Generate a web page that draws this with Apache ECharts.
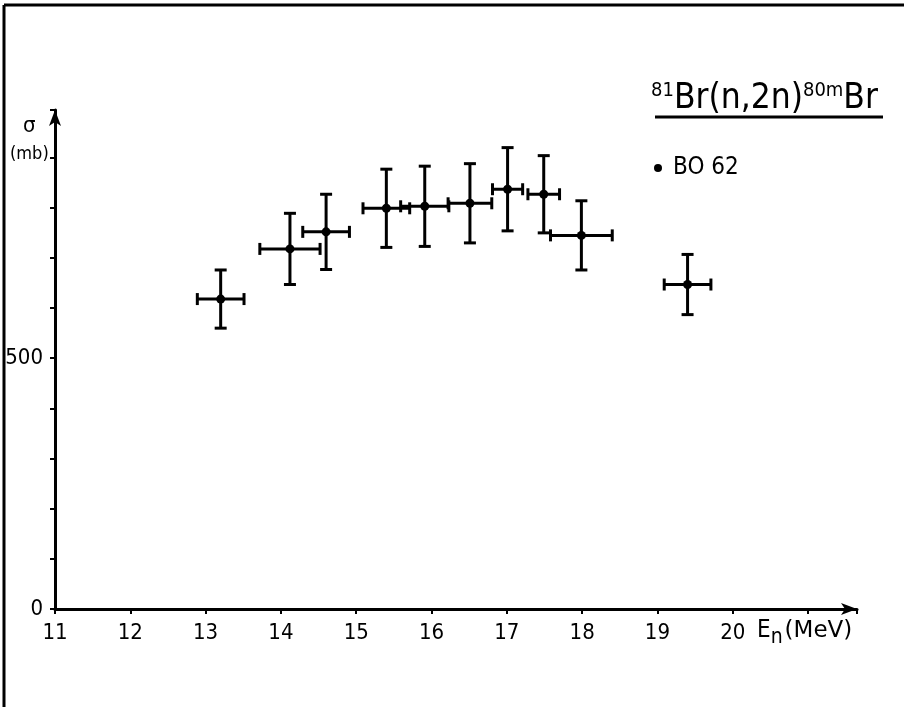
<!DOCTYPE html>
<html>
<head>
<meta charset="utf-8">
<script src="https://cdn.jsdelivr.net/npm/echarts@6/dist/echarts.min.js"></script>
<style>html,body{margin:0;padding:0;background:#fff;}#c{width:904px;height:707px;}</style>
</head>
<body>
<div id="c"></div>
<script>
// Data
const energies   = [13.2, 14.12, 14.6, 15.4, 15.91, 16.51, 17.01, 17.49, 17.99, 19.4];
const energyErr  = [0.31, 0.40, 0.31, 0.31, 0.32, 0.29, 0.20, 0.21, 0.41, 0.31];
const sigma      = [618, 718, 752, 799, 803, 809, 837, 827, 745, 647];
const sigmaErr   = [58, 71, 75, 78, 80, 79, 83, 77, 69, 60];
const xTickLabels = ['11','12','13','14','15','16','17','18','19','20'];
const yTickLabels = ['0','500'];
const seriesName = 'BO 62';

const COND = '"DejaVu Sans Condensed", "DejaVu Sans", sans-serif';
const WIDE = '"DejaVu Sans", sans-serif';
const chart = echarts.init(document.getElementById('c'), null, {renderer: 'canvas'});

const errData = energies.map((e, i) => [e, sigma[i], energyErr[i], sigmaErr[i]]);
const ptData = energies.map((e, i) => [e, sigma[i]]);

function renderErr(params, api) {
  const x = api.value(0), y = api.value(1), ex = api.value(2), ey = api.value(3);
  const l = api.coord([x - ex, y]), r = api.coord([x + ex, y]);
  const t = api.coord([x, y + ey]), b = api.coord([x, y - ey]);
  const st = {stroke: '#000', lineWidth: 3};
  const cap = 6, vcap = 6;
  return {
    type: 'group',
    children: [
      {type: 'line', shape: {x1: l[0], y1: l[1], x2: r[0], y2: r[1]}, style: st},
      {type: 'line', shape: {x1: t[0], y1: t[1], x2: b[0], y2: b[1]}, style: st},
      {type: 'line', shape: {x1: l[0], y1: l[1] - vcap, x2: l[0], y2: l[1] + vcap}, style: st},
      {type: 'line', shape: {x1: r[0], y1: r[1] - vcap, x2: r[0], y2: r[1] + vcap}, style: st},
      {type: 'line', shape: {x1: t[0] - cap, y1: t[1], x2: t[0] + cap, y2: t[1]}, style: st},
      {type: 'line', shape: {x1: b[0] - cap, y1: b[1], x2: b[0] + cap, y2: b[1]}, style: st}
    ]
  };
}

const option = {
  backgroundColor: '#fff',
  animation: false,
  grid: {left: 55, top: 110, width: 802, height: 499, containLabel: false},
  xAxis: {
    type: 'value', min: 11, max: 21.65, interval: 1,
    axisLine: {show: true, onZero: false, lineStyle: {color: '#000', width: 3}, symbol: ['none', 'arrow'], symbolSize: [9, 16]},
    axisTick: {show: true, length: 5, lineStyle: {color: '#000', width: 2}},
    splitLine: {show: false},
    axisLabel: {
      color: '#000', fontSize: 22, fontFamily: COND, margin: 13,
      formatter: v => { const i = Math.round(v) - 11; return (Math.abs(v - Math.round(v)) < 1e-6 && i >= 0 && i < xTickLabels.length) ? xTickLabels[i] : ''; }
    }
  },
  yAxis: {
    type: 'value', min: 0, max: 995, interval: 100,
    axisLine: {show: true, onZero: false, lineStyle: {color: '#000', width: 3}, symbol: ['none', 'arrow'], symbolSize: [9, 16]},
    axisTick: {show: true, length: 5, lineStyle: {color: '#000', width: 2}},
    splitLine: {show: false},
    axisLabel: {
      color: '#000', fontSize: 22, fontFamily: COND, margin: 12,
      formatter: v => v === 0 ? yTickLabels[0] : (v === 500 ? yTickLabels[1] : '')
    }
  },
  legend: {
    show: true, left: 649, top: 151, icon: 'circle', itemWidth: 8, itemHeight: 8, itemGap: 4,
    textStyle: {color: '#000', fontSize: 24, fontFamily: COND, padding: [0, 0, 0, 6]},
    itemStyle: {color: '#000', opacity: 1},
    data: [seriesName]
  },
  series: [
    {type: 'custom', name: 'err', renderItem: renderErr, data: errData, z: 2, silent: true},
    {type: 'scatter', name: seriesName, data: ptData, symbol: 'circle', symbolSize: 9, itemStyle: {color: '#000', opacity: 1}, z: 3}
  ],
  graphic: [
    {type: 'line', shape: {x1: 4, y1: 5, x2: 904, y2: 5}, style: {stroke: '#000', lineWidth: 3}},
    {type: 'line', shape: {x1: 4, y1: 5, x2: 4, y2: 707}, style: {stroke: '#000', lineWidth: 3}},
    {type: 'text', left: 23, top: 115, style: {text: 'σ', fill: '#000', font: '22px ' + COND}},
    {type: 'text', left: 10, top: 145, style: {text: '(mb)', fill: '#000', font: '18px ' + COND}},
    {type: 'text', left: 757, top: 619, style: {
      text: '{e|E}{n|n}{u|(MeV)}',
      rich: {
        e: {fontSize: 24, fontFamily: COND, fill: '#000'},
        n: {fontSize: 21, fontFamily: COND, fill: '#000', padding: [14, 0, 0, 0]},
        u: {fontSize: 23, fontFamily: WIDE, fill: '#000', padding: [0, 0, 0, 2]}
      }
    }},
    {type: 'text', left: 651, top: 81, style: {
      text: '{s|81}{m|Br(n,2n)}{s|80m}{m|Br}',
      rich: {
        s: {fontSize: 20, fontFamily: COND, fill: '#000', padding: [0, 0, 16, 0]},
        m: {fontSize: 35, fontFamily: COND, fill: '#000'}
      }
    }},
    {type: 'line', shape: {x1: 655, y1: 117, x2: 883, y2: 117}, style: {stroke: '#000', lineWidth: 3}}
  ]
};
chart.setOption(option);
</script>
</body>
</html>
